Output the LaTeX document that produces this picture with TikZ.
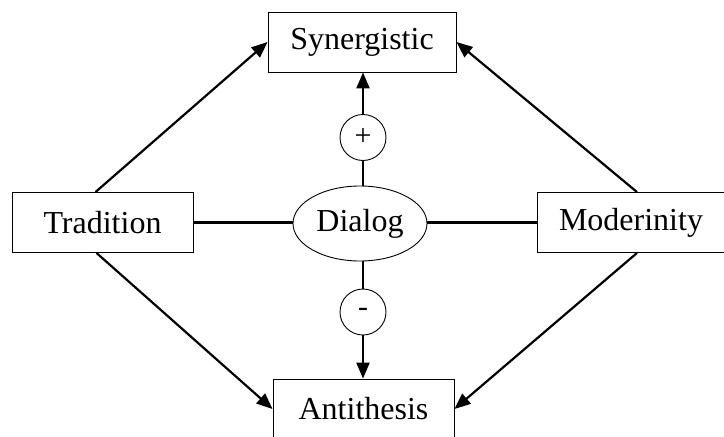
\documentclass[tikz,border=0pt]{standalone}
\usepackage{fontspec}
\setmainfont{Liberation Serif}
\usetikzlibrary{arrows.meta,shapes.geometric}
\begin{document}
\begin{tikzpicture}[x=1pt,y=-1pt,
  box/.style={draw,line width=0.9pt,minimum height=60pt,inner sep=0pt,font=\fontsize{32}{38}\selectfont},
  oval/.style={draw,ellipse,line width=0.9pt,minimum width=134pt,minimum height=75pt,inner sep=0pt,font=\fontsize{32}{38}\selectfont},
  sign/.style={draw,circle,line width=0.9pt,minimum size=46pt,inner sep=0pt,font=\fontsize{30}{36}\selectfont},
  conn/.style={line width=2.2pt},
  arr/.style={line width=2.2pt,-{Triangle[length=16pt,width=13pt]}}]
\useasboundingbox (0,0) rectangle (724,437);
\node[box,minimum width=188pt] (syn) at (362,42) {Synergistic};
\node[box,minimum width=181pt] (trad) at (102.5,222.5) {Tradition};
\node[box,minimum width=188pt] (mod) at (631,222.5) {Moderinity};
\node[box,minimum width=181pt] (anti) at (363.5,409) {Antithesis};
\node[oval] (dia) at (360,223.5) {Dialog};
\node[sign] (plus) at (363,137.5) {+};
\node[sign] (minus) at (363,312) {-};
\draw[conn] (trad.east) -- (trad.east -| dia.west);
\draw[conn] (mod.west -| dia.east) -- (mod.west);
\draw[conn] (dia.north -| plus.south) -- (plus.south);
\draw[arr] (plus.north) -- (plus.north |- syn.south);
\draw[conn] (dia.south -| minus.north) -- (minus.north);
\draw[arr] (minus.south) -- (minus.south |- anti.north);
\draw[arr] ([xshift=-7pt]trad.north) -- (syn.west);
\draw[arr] ([xshift=-6pt]trad.south) -- (anti.west);
\draw[arr] ([xshift=6pt]mod.north) -- (syn.east);
\draw[arr] ([xshift=6pt]mod.south) -- (anti.east);
\end{tikzpicture}
\end{document}
